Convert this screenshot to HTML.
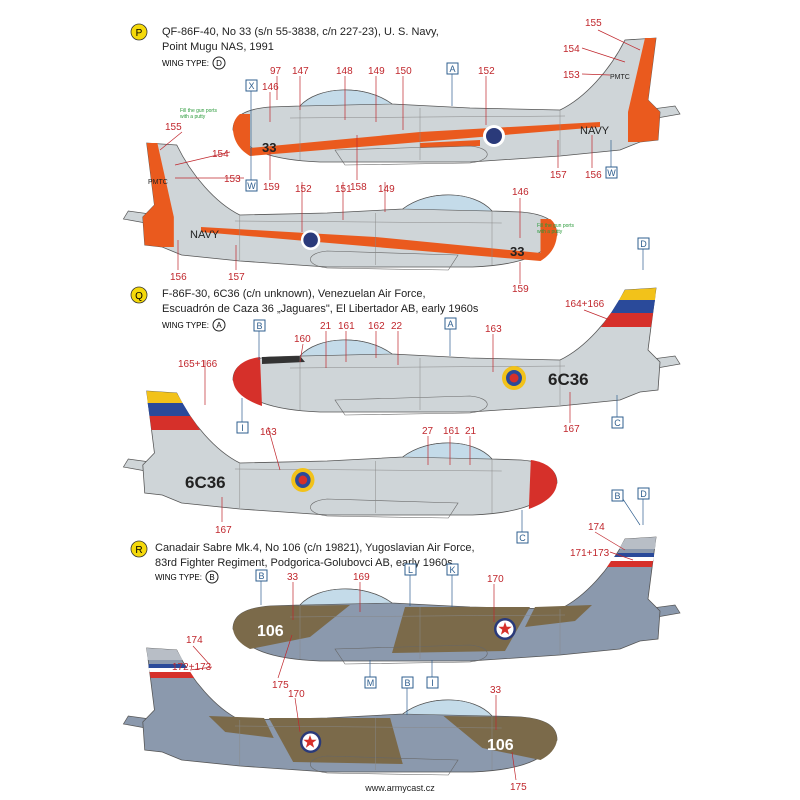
<!DOCTYPE html>
<html><head><meta charset="utf-8"><style>
body{margin:0;background:#fff;}
svg{display:block;font-family:"Liberation Sans",sans-serif;}
.r{fill:#c0272d;font-size:10px;}
.h{fill:#222;font-size:11px;}
.b{fill:#fff;stroke:#2f5f8f;stroke-width:1;}
.bt{fill:#2f5f8f;font-size:9px;text-anchor:middle;}
.ln{stroke:#c0272d;stroke-width:0.7;fill:none;}
.bl{stroke:#2f5f8f;stroke-width:0.7;fill:none;}
.g{fill:#2a9a3a;font-size:5px;}
</style></head><body>
<svg width="800" height="800" viewBox="0 0 800 800">
<defs>
<path id="fus" d="M233,130 C233,116 245,109 270,107 L300,106 C318,86 365,84 392,104 L470,108 L560,110 C585,98 610,70 625,40 L656,38 L648,100 L660,112 L658,140 L640,142 L620,150 L560,156 L470,162 L320,162 C270,160 245,150 233,130 Z"/>
<g id="body">
 <path d="M585,118 L675,106 L680,114 L600,128 Z" fill="currentColor" stroke="#555" stroke-width="0.7"/>
 <use href="#fus" fill="currentColor" stroke="#555" stroke-width="0.8"/>
</g>
<g id="top">
 <path d="M300,106 C318,86 365,84 392,104 Z" fill="#c4dbe9" stroke="#555" stroke-width="0.6"/>
 <path d="M335,150 L470,146 C492,148 494,160 470,163 L345,165 Z" fill="none" stroke="#666" stroke-width="0.6"/>
 <path d="M290,118 L565,116 M420,108 L420,160 M560,110 L560,155 M300,106 L300,160" stroke="#888" stroke-width="0.5" fill="none"/>
</g>
<polygon id="star" points="0,-7 1.7,-2.2 6.7,-2.2 2.7,0.8 4.1,5.7 0,2.8 -4.1,5.7 -2.7,0.8 -6.7,-2.2 -1.7,-2.2" fill="#d6302a"/>
</defs>

<!-- P1 -->
<g style="color:#cfd5d8">
 <use href="#body"/>
 <path d="M645,38 L656,38 L648,100 L660,112 L658,140 L640,142 L628,142 L628,112 Z" fill="#ea5a1e"/>
 <path d="M233,130 C233,122 236,117 240,114 L250,114 L250,156 C240,150 234,142 233,130 Z" fill="#ea5a1e"/>
 <path d="M250,148 L420,132 L600,122 L600,127 L420,142 L250,156 Z" fill="#ea5a1e"/>
 <path d="M420,143 L480,140 L480,146 L420,148 Z" fill="#ea5a1e"/>
 <use href="#top"/>
 <circle cx="494" cy="136" r="11" fill="#fff"/><circle cx="494" cy="136" r="8" fill="#2a3a7a"/>
 <text x="262" y="152" font-size="13" font-weight="bold" fill="#222">33</text>
 <text x="580" y="134" font-size="11" fill="#222">NAVY</text>
 <text x="610" y="79" font-size="7" fill="#222">PMTC</text>
</g>
<!-- P2 -->
<g transform="translate(783,105) scale(-0.97,1)" style="color:#cfd5d8">
 <use href="#body"/>
 <path d="M645,38 L656,38 L648,100 L660,112 L658,140 L640,142 L628,142 L628,112 Z" fill="#ea5a1e"/>
 <path d="M233,130 C233,122 236,117 240,114 L250,114 L250,156 C240,150 234,142 233,130 Z" fill="#ea5a1e"/>
 <path d="M250,148 L420,132 L600,122 L600,127 L420,142 L250,156 Z" fill="#ea5a1e"/>
 <use href="#top"/>
 <circle cx="487" cy="135" r="10" fill="#fff"/><circle cx="487" cy="135" r="7.5" fill="#2a3a7a"/>
</g>
<text x="510" y="256" font-size="13" font-weight="bold" fill="#222">33</text>
<text x="190" y="238" font-size="11" fill="#222">NAVY</text>
<text x="148" y="184" font-size="7" fill="#222">PMTC</text>
<text class="g" x="180" y="112">Fill the gun ports</text><text class="g" x="180" y="118">with a putty</text>
<text class="g" x="537" y="227">Fill the gun ports</text><text class="g" x="537" y="233">with a putty</text>

<!-- Q1 -->
<g transform="translate(0,250)" style="color:#cfd5d8">
 <use href="#body"/>
 <path d="M233,130 C233,116 245,109 260,107 L262,156 C245,150 234,142 233,130 Z" fill="#d6302a"/>
 <path d="M262,107 L300,106 L305,112 L262,114 Z" fill="#333"/>
 <path d="M619,50 L625,40 L656,38 L655,50 Z" fill="#f2c21a"/><path d="M611,63 L619,50 L655,50 L653,63 Z" fill="#2a4a9a"/><path d="M601,77 L611,63 L653,63 L651,77 Z" fill="#d6302a"/>
 <use href="#top"/>
 <circle cx="514" cy="128" r="12" fill="#f2c21a"/><circle cx="514" cy="128" r="8" fill="#2a4a9a"/><circle cx="514" cy="128" r="4.5" fill="#d6302a"/>
 <text x="548" y="135" font-size="17" font-weight="bold" fill="#222">6C36</text>
</g>
<!-- Q2 -->
<g transform="translate(783,353) scale(-0.97,1)" style="color:#cfd5d8">
 <use href="#body"/>
 <path d="M233,130 C233,116 245,109 260,107 L262,156 C245,150 234,142 233,130 Z" fill="#d6302a"/>
 <path d="M619,50 L625,40 L656,38 L655,50 Z" fill="#f2c21a"/><path d="M611,63 L619,50 L655,50 L653,63 Z" fill="#2a4a9a"/><path d="M601,77 L611,63 L653,63 L651,77 Z" fill="#d6302a"/>
 <use href="#top"/>
 <circle cx="495" cy="127" r="12" fill="#f2c21a"/><circle cx="495" cy="127" r="8" fill="#2a4a9a"/><circle cx="495" cy="127" r="4.5" fill="#d6302a"/>
</g>
<text x="185" y="488" font-size="17" font-weight="bold" fill="#222">6C36</text>

<!-- R1 -->
<g transform="translate(0,499)" style="color:#8b99ad">
 <use href="#body"/>
 <path d="M233,130 C233,116 245,109 270,107 L350,106 L310,138 L250,150 C240,145 234,138 233,130 Z" fill="#7b6a4a"/>
 <path d="M405,108 L530,108 L505,152 L392,154 Z" fill="#7b6a4a"/>
 <path d="M535,108 L592,106 L575,122 L525,128 Z" fill="#7b6a4a"/>
 <path d="M619,50 L625,40 L656,38 L655,50 Z" fill="#b8bec6"/>
 <path d="M614,58 L618,54 L654,54 L654,58 Z" fill="#2a4a9a"/><path d="M611,62 L614,58 L654,58 L653,62 Z" fill="#fff"/><path d="M607,68 L611,62 L653,62 L652,68 Z" fill="#d6302a"/>
 <use href="#top"/>
 <circle cx="505" cy="130" r="11" fill="#2a3a7a"/><circle cx="505" cy="130" r="8.5" fill="#fff"/><use href="#star" x="505" y="130"/>
 <text x="257" y="137" font-size="16" font-weight="bold" fill="#fff">106</text>
</g>
<!-- R2 -->
<g transform="translate(783,610) scale(-0.97,1)" style="color:#8b99ad">
 <use href="#body"/>
 <path d="M233,130 C233,116 245,109 270,107 L350,106 L310,138 L250,150 C240,145 234,138 233,130 Z" fill="#7b6a4a"/>
 <path d="M405,108 L530,108 L505,152 L392,154 Z" fill="#7b6a4a"/>
 <path d="M535,108 L592,106 L575,122 L525,128 Z" fill="#7b6a4a"/>
 <path d="M619,50 L625,40 L656,38 L655,50 Z" fill="#b8bec6"/>
 <path d="M614,58 L618,54 L654,54 L654,58 Z" fill="#2a4a9a"/><path d="M611,62 L614,58 L654,58 L653,62 Z" fill="#fff"/><path d="M607,68 L611,62 L653,62 L652,68 Z" fill="#d6302a"/>
 <use href="#top"/>
 <circle cx="487" cy="132" r="11" fill="#2a3a7a"/><circle cx="487" cy="132" r="8.5" fill="#fff"/>
</g>
<use href="#star" x="310" y="742"/>
<text x="487" y="750" font-size="16" font-weight="bold" fill="#fff">106</text>

<!-- Headers -->
<circle cx="139" cy="32" r="8" fill="#f5d90a" stroke="#333" stroke-width="0.8"/><text x="139" y="36" font-size="10" text-anchor="middle">P</text>
<text class="h" x="162" y="35">QF-86F-40, No 33 (s/n 55-3838, c/n 227-23), U. S. Navy,</text>
<text class="h" x="162" y="50">Point Mugu NAS, 1991</text>
<text x="162" y="66" font-size="8">WING TYPE:</text><circle cx="219" cy="63" r="6" fill="none" stroke="#222"/><text x="219" y="66" font-size="8" text-anchor="middle">D</text>

<circle cx="139" cy="295" r="8" fill="#f5d90a" stroke="#333" stroke-width="0.8"/><text x="139" y="299" font-size="10" text-anchor="middle">Q</text>
<text class="h" x="162" y="297">F-86F-30, 6C36 (c/n unknown), Venezuelan Air Force,</text>
<text class="h" x="162" y="312">Escuadrón de Caza 36 „Jaguares", El Libertador AB, early 1960s</text>
<text x="162" y="328" font-size="8">WING TYPE:</text><circle cx="219" cy="325" r="6" fill="none" stroke="#222"/><text x="219" y="328" font-size="8" text-anchor="middle">A</text>

<circle cx="139" cy="549" r="8" fill="#f5d90a" stroke="#333" stroke-width="0.8"/><text x="139" y="553" font-size="10" text-anchor="middle">R</text>
<text class="h" x="155" y="551">Canadair Sabre Mk.4, No 106 (c/n 19821), Yugoslavian Air Force,</text>
<text class="h" x="155" y="566">83rd Fighter Regiment, Podgorica-Golubovci AB, early 1960s</text>
<text x="155" y="580" font-size="8">WING TYPE:</text><circle cx="212" cy="577" r="6" fill="none" stroke="#222"/><text x="212" y="580" font-size="8" text-anchor="middle">B</text>

<!-- leader lines -->
<path class="ln" d="M277,76 L277,100 M300,76 L300,110 M345,76 L345,120 M376,76 L376,122 M403,76 L403,130 M486,76 L486,125 M270,92 L270,122 M270,180 L270,150 M357,180 L357,135 M558,168 L558,140 M592,168 L592,135 M598,30 L640,50 M582,48 L625,62 M582,74 L610,75 M182,132 L160,150 M230,152 L175,165 M244,178 L175,178 M302,182 L302,232 M343,182 L343,220 M385,182 L385,212 M520,198 L520,238 M178,270 L178,240 M236,270 L236,245 M520,284 L520,262"/>
<path class="ln" d="M303,344 L300,362 M326,331 L326,368 M346,331 L346,362 M376,331 L376,358 M398,331 L398,365 M493,334 L493,372 M584,310 L610,320 M570,423 L570,392 M205,360 L205,405 M268,427 L280,470 M428,436 L428,465 M450,436 L450,465 M470,436 L470,465 M222,522 L222,497"/>
<path class="ln" d="M595,532 L625,550 M610,552 L633,560 M293,582 L293,620 M360,582 L360,612 M494,584 L494,622 M278,678 L292,635 M193,646 L210,665 M212,667 L190,670 M295,698 L300,732 M496,695 L496,730 M516,780 L512,752"/>

<!-- P labels -->
<text class="r" x="270" y="74">97</text><text class="r" x="292" y="74">147</text><text class="r" x="336" y="74">148</text><text class="r" x="368" y="74">149</text><text class="r" x="395" y="74">150</text><text class="r" x="478" y="74">152</text>
<text class="r" x="262" y="90">146</text><text class="r" x="263" y="190">159</text><text class="r" x="350" y="190">158</text><text class="r" x="550" y="178">157</text><text class="r" x="585" y="178">156</text>
<text class="r" x="585" y="26">155</text><text class="r" x="563" y="52">154</text><text class="r" x="563" y="78">153</text>
<text class="r" x="165" y="130">155</text><text class="r" x="212" y="157">154</text><text class="r" x="224" y="182">153</text>
<text class="r" x="295" y="192">152</text><text class="r" x="335" y="192">151</text><text class="r" x="378" y="192">149</text><text class="r" x="512" y="195">146</text>
<text class="r" x="170" y="280">156</text><text class="r" x="228" y="280">157</text><text class="r" x="512" y="292">159</text>
<!-- Q labels -->
<text class="r" x="294" y="342">160</text><text class="r" x="320" y="329">21</text><text class="r" x="338" y="329">161</text><text class="r" x="368" y="329">162</text><text class="r" x="391" y="329">22</text><text class="r" x="485" y="332">163</text>
<text class="r" x="565" y="307">164+166</text><text class="r" x="563" y="432">167</text>
<text class="r" x="178" y="367">165+166</text><text class="r" x="260" y="435">163</text><text class="r" x="422" y="434">27</text><text class="r" x="443" y="434">161</text><text class="r" x="465" y="434">21</text><text class="r" x="215" y="533">167</text>
<!-- R labels -->
<text class="r" x="588" y="530">174</text><text class="r" x="570" y="556">171+173</text><text class="r" x="287" y="580">33</text><text class="r" x="353" y="580">169</text><text class="r" x="487" y="582">170</text><text class="r" x="272" y="688">175</text>
<text class="r" x="186" y="643">174</text><text class="r" x="172" y="670">172+173</text><text class="r" x="288" y="697">170</text><text class="r" x="490" y="693">33</text><text class="r" x="510" y="790">175</text>

<!-- box leaders -->
<path class="bl" d="M251,91 L251,180 M452,74 L452,106 M611,167 L611,140 M643,249 L643,270 M259,331 L259,360 M450,329 L450,356 M242,422 L242,398 M617,417 L617,395 M522,532 L522,510 M617,490 L640,525 M643,488 L643,525 M261,581 L261,605 M410,575 L410,606 M452,575 L452,607 M370,677 L370,660 M407,677 L407,715 M432,677 L432,660"/>

<!-- boxes -->
<rect class="b" x="246" y="80" width="11" height="11"/><text class="bt" x="251.5" y="89">X</text>
<rect class="b" x="246" y="180" width="11" height="11"/><text class="bt" x="251.5" y="189">W</text>
<rect class="b" x="447" y="63" width="11" height="11"/><text class="bt" x="452.5" y="72">A</text>
<rect class="b" x="606" y="167" width="11" height="11"/><text class="bt" x="611.5" y="176">W</text>
<rect class="b" x="638" y="238" width="11" height="11"/><text class="bt" x="643.5" y="247">D</text>
<rect class="b" x="254" y="320" width="11" height="11"/><text class="bt" x="259.5" y="329">B</text>
<rect class="b" x="445" y="318" width="11" height="11"/><text class="bt" x="450.5" y="327">A</text>
<rect class="b" x="237" y="422" width="11" height="11"/><text class="bt" x="242.5" y="431">I</text>
<rect class="b" x="612" y="417" width="11" height="11"/><text class="bt" x="617.5" y="426">C</text>
<rect class="b" x="517" y="532" width="11" height="11"/><text class="bt" x="522.5" y="541">C</text>
<rect class="b" x="612" y="490" width="11" height="11"/><text class="bt" x="617.5" y="499">B</text>
<rect class="b" x="638" y="488" width="11" height="11"/><text class="bt" x="643.5" y="497">D</text>
<rect class="b" x="256" y="570" width="11" height="11"/><text class="bt" x="261.5" y="579">B</text>
<rect class="b" x="405" y="564" width="11" height="11"/><text class="bt" x="410.5" y="573">L</text>
<rect class="b" x="447" y="564" width="11" height="11"/><text class="bt" x="452.5" y="573">K</text>
<rect class="b" x="365" y="677" width="11" height="11"/><text class="bt" x="370.5" y="686">M</text>
<rect class="b" x="402" y="677" width="11" height="11"/><text class="bt" x="407.5" y="686">B</text>
<rect class="b" x="427" y="677" width="11" height="11"/><text class="bt" x="432.5" y="686">I</text>
<text x="400" y="791" font-size="9" fill="#222" text-anchor="middle">www.armycast.cz</text>
</svg>
</body></html>
